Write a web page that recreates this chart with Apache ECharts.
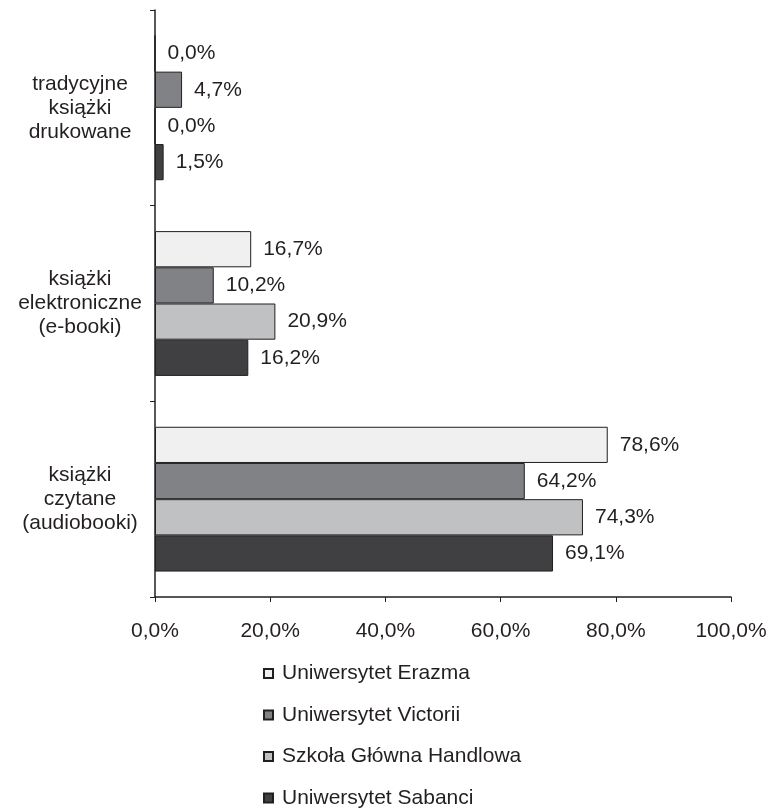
<!DOCTYPE html>
<html>
<head>
<meta charset="utf-8">
<script src="https://cdn.jsdelivr.net/npm/echarts@6/dist/echarts.min.js"></script>
<style>html,body{margin:0;padding:0;background:#fff;}#c{width:772px;height:810px;}</style>
</head>
<body>
<div id="c"></div>
<script>
const categories = ['tradycyjne\nksiążki\ndrukowane', 'książki\nelektroniczne\n(e-booki)', 'książki\nczytane\n(audiobooki)'];
const seriesNames = ['Uniwersytet Erazma', 'Uniwersytet Victorii', 'Szkoła Główna Handlowa', 'Uniwersytet Sabanci'];
const erazma = [0.0, 16.7, 78.6];
const victorii = [4.7, 10.2, 64.2];
const sgh = [0.0, 20.9, 74.3];
const sabanci = [1.5, 16.2, 69.1];
const xTicks = [0, 20, 40, 60, 80, 100];

const colors = ['#f0f0f0', '#808285', '#c0c1c3', '#404042'];
const dark = '#231f20';
const font = 'Liberation Sans, Arial, sans-serif';
const fmt = v => v.toFixed(1).replace('.', ',') + '%';

const chart = echarts.init(document.getElementById('c'));
const values = [erazma, victorii, sgh, sabanci];
chart.setOption({
  animation: false,
  backgroundColor: '#fff',
  grid: { left: 155, right: 41, top: 10, bottom: 213, containLabel: false },
  xAxis: {
    type: 'value', min: xTicks[0], max: xTicks[xTicks.length - 1], interval: 20,
    axisLine: { show: true, lineStyle: { color: dark, width: 1.5 } },
    axisTick: { show: true, length: 5, lineStyle: { color: dark, width: 1 } },
    splitLine: { show: false },
    axisLabel: { formatter: v => fmt(v), color: dark, fontFamily: font, fontSize: 21, margin: 24 }
  },
  yAxis: {
    type: 'category', data: categories, inverse: true,
    axisLine: { show: true, lineStyle: { color: dark, width: 1.5 } },
    axisTick: { show: true, length: 5, lineStyle: { color: dark, width: 1 } },
    axisLabel: { color: dark, fontFamily: font, fontSize: 21, lineHeight: 24, align: 'center', margin: 75, padding: [0, 0, 6, 0] }
  },
  legend: {
    orient: 'vertical', left: 263, top: 663, height: 160, padding: 0,
    itemWidth: 9, itemHeight: 9, itemGap: 20.5,
    textStyle: { color: dark, fontFamily: font, fontSize: 21, padding: [0, 0, 0, 4] },
    data: seriesNames.map(n => ({ name: n, icon: 'rect' }))
  },
  series: seriesNames.map((n, i) => ({
    name: n, type: 'bar', data: values[i],
    barGap: '0%', barCategoryGap: '26%',
    itemStyle: { color: colors[i], borderColor: dark, borderWidth: 1 },
    label: { show: true, position: 'right', distance: 12, formatter: p => fmt(p.value), color: dark, fontFamily: font, fontSize: 21 }
  }))
});
</script>
</body>
</html>
